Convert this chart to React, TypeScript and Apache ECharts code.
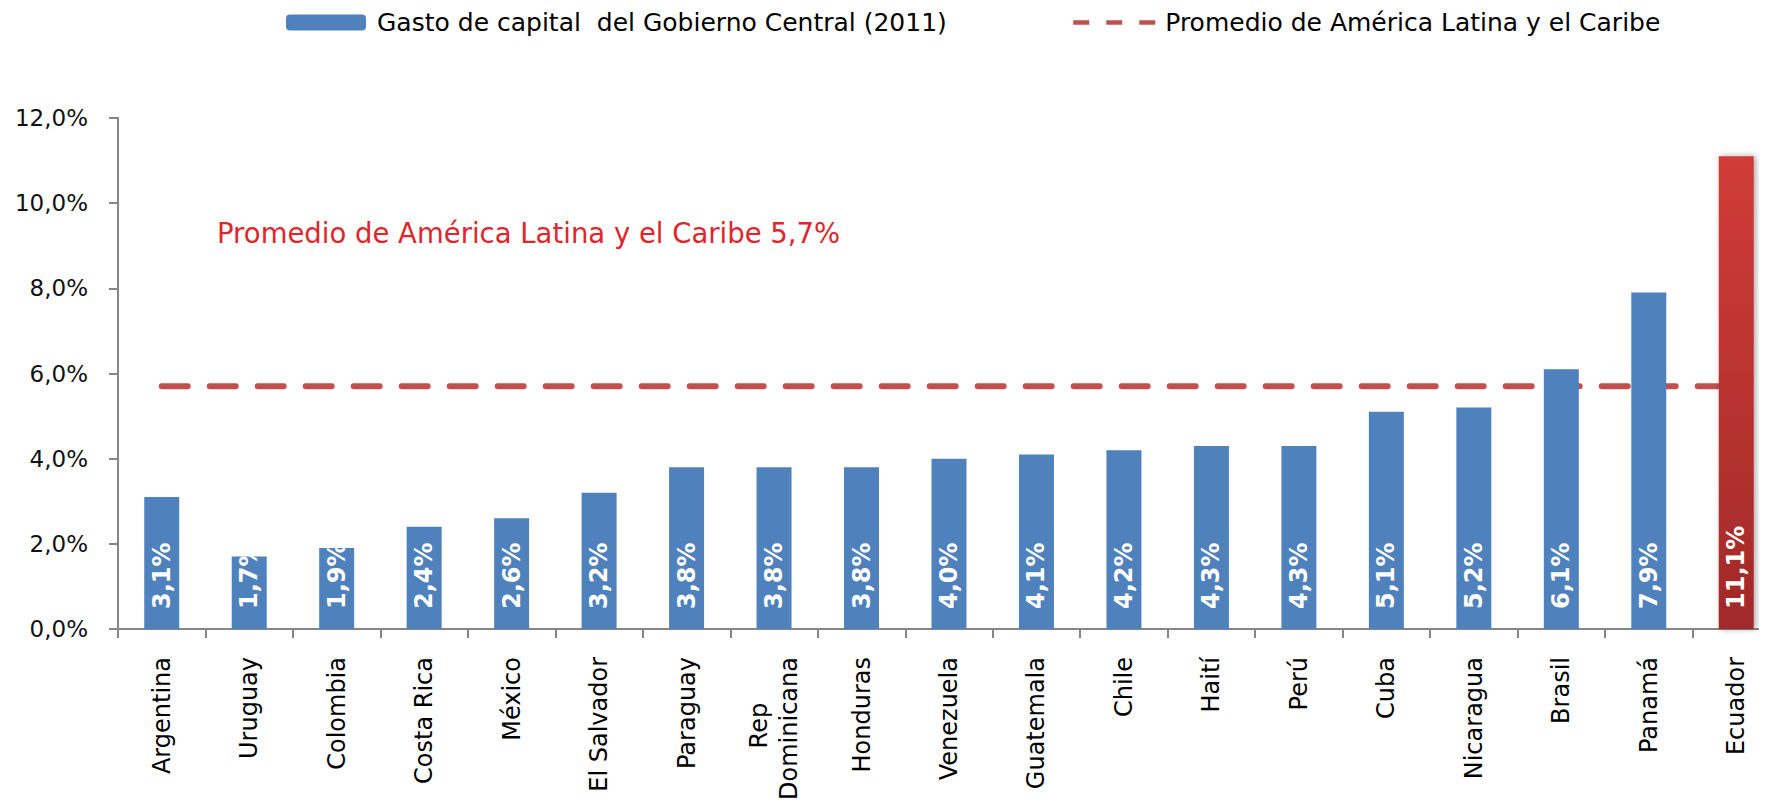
import React, { useEffect, useRef } from "react";
import * as echarts from "echarts";

const categories: string[] = [
  "Argentina", "Uruguay", "Colombia", "Costa Rica", "México", "El Salvador",
  "Paraguay", "Rep\nDominicana", "Honduras", "Venezuela", "Guatemala", "Chile",
  "Haití", "Perú", "Cuba", "Nicaragua", "Brasil", "Panamá", "Ecuador",
];
const capitalSpending: number[] = [
  3.1, 1.7, 1.9, 2.4, 2.6, 3.2, 3.8, 3.8, 3.8, 4.0, 4.1, 4.2, 4.3, 4.3, 5.1, 5.2, 6.1, 7.9, 11.1,
];
const regionalAverageLine: number[] = [
  5.7, 5.7, 5.7, 5.7, 5.7, 5.7, 5.7, 5.7, 5.7, 5.7, 5.7, 5.7, 5.7, 5.7, 5.7, 5.7, 5.7, 5.7, 5.7,
];
const regionalAverage = 5.7;
const highlightedCountry = "Ecuador";
const yAxisMin = 0;
const yAxisMax = 12;
const yAxisInterval = 2;
const barSeriesName = "Gasto de capital  del Gobierno Central (2011)";
const lineSeriesName = "Promedio de América Latina y el Caribe";

const pct = (v: number) => v.toFixed(1).replace(".", ",") + "%";

// Centre shorter lines of multi-line rotated labels (labels are right-aligned when rotated).
const centreLines = (label: string, fontSize: number) => {
  const lines = label.split("\n");
  if (lines.length < 2) return label;
  const ctx = document.createElement("canvas").getContext("2d")!;
  ctx.font = `${fontSize}px "DejaVu Sans"`;
  const widths = lines.map((l) => ctx.measureText(l).width);
  const maxW = Math.max(...widths);
  const sp = ctx.measureText("\u00a0").width || fontSize * 0.318;
  return lines
    .map((l, i) => l + "\u00a0".repeat(Math.round((maxW - widths[i]) / 2 / sp)))
    .join("\n");
};

export default function App() {
  const ref = useRef<HTMLDivElement>(null);
  useEffect(() => {
    if (!ref.current) return;
    const chart = echarts.init(ref.current, undefined, { renderer: "svg" });
    const barData = capitalSpending.map((v, i) =>
      categories[i] === highlightedCountry
        ? {
            value: v,
            itemStyle: {
              color: new echarts.graphic.LinearGradient(0, 0, 0, 1, [
                { offset: 0, color: "#D03C37" },
                { offset: 1, color: "#A12A2A" },
              ]),
              shadowBlur: 6,
              shadowColor: "rgba(0,0,0,0.35)",
              shadowOffsetX: 2,
              shadowOffsetY: 0,
            },
          }
        : v
    );
    const legendText = {
      fontFamily: "DejaVu Sans",
      fontSize: 25,
      color: "#000",
    };
    const xFont = 24;
    chart.setOption({
      animation: false,
      backgroundColor: "#ffffff",
      legend: [
        {
          data: [barSeriesName],
          left: 286,
          top: 10,
          padding: 0,
          itemWidth: 80,
          itemHeight: 16,
          textStyle: { ...legendText, padding: [0, 0, 0, 6] },
          selectedMode: false,
        },
        {
          data: [
            {
              name: lineSeriesName,
              lineStyle: { type: [16, 17], width: 4.5, cap: "butt" },
              itemStyle: { opacity: 0 },
            },
          ],
          left: 1071,
          top: 10,
          padding: 0,
          itemWidth: 83,
          itemHeight: 16,
          textStyle: { ...legendText, padding: [0, 0, 0, 4] },
          selectedMode: false,
        },
      ],
      grid: { left: 118, right: 0, top: 118, bottom: 179, containLabel: false },
      xAxis: {
        type: "category",
        data: categories,
        boundaryGap: true,
        axisLine: { lineStyle: { color: "#868686", width: 2 } },
        axisTick: { show: true, length: 9, lineStyle: { color: "#868686", width: 2 } },
        axisLabel: {
          interval: 0,
          rotate: 90,
          margin: 28,
          fontFamily: "DejaVu Sans",
          fontSize: xFont,
          color: "#000",
          lineHeight: 30,
          formatter: (v: string) => centreLines(v, xFont),
        },
      },
      yAxis: {
        type: "value",
        min: yAxisMin,
        max: yAxisMax,
        interval: yAxisInterval,
        axisLine: { show: true, lineStyle: { color: "#868686", width: 2 } },
        axisTick: { show: true, length: 9, lineStyle: { color: "#868686", width: 2 } },
        splitLine: { show: false },
        axisLabel: {
          formatter: (v: number) => pct(v),
          margin: 30,
          fontFamily: "DejaVu Sans",
          fontSize: 23,
          color: "#111",
        },
      },
      series: [
        {
          name: barSeriesName,
          type: "bar",
          data: barData,
          barWidth: "40%",
          z: 3,
          itemStyle: { color: "#4F81BD" },
          label: {
            show: true,
            position: "insideBottom",
            rotate: 90,
            align: "left",
            verticalAlign: "middle",
            distance: 20,
            formatter: (p: any) => pct(p.value),
            color: "#fff",
            fontFamily: "DejaVu Sans",
            fontWeight: "bold",
            fontSize: 24,
          },
        },
        {
          name: lineSeriesName,
          type: "line",
          data: regionalAverageLine,
          symbol: "none",
          z: 2,
          lineStyle: { color: "#C0504D", width: 6, type: [26, 22], cap: "round" },
          itemStyle: { color: "#C0504D" },
        },
      ],
      graphic: [
        {
          type: "text",
          left: 217,
          top: 219,
          style: {
            text: "Promedio de América Latina y el Caribe " + pct(regionalAverage),
            fill: "#E0262B",
            fontFamily: "DejaVu Sans",
            fontSize: 27.5,
          },
        },
      ],
    });
    return () => chart.dispose();
  }, []);
  return (
    <div style={{ width: 1767, height: 808, margin: -8, overflow: "hidden", position: "relative" }}>
      <div ref={ref} style={{ width: 1780, height: 808 }} />
    </div>
  );
}
